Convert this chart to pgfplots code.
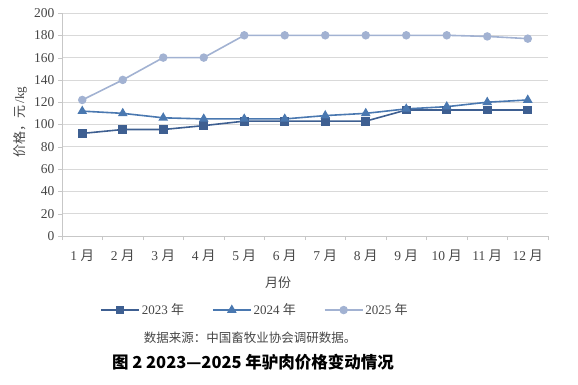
\documentclass[border=0pt]{standalone}
\usepackage{fontspec}
\setmainfont{Liberation Serif}
\newfontfamily\cjk{Noto Sans CJK SC}
\usepackage{pgfplots}
\pgfplotsset{compat=1.18}
\definecolor{cA}{RGB}{62,95,145}
\definecolor{cB}{RGB}{74,120,176}
\definecolor{cC}{RGB}{162,178,210}
\definecolor{txt}{RGB}{70,70,70}
\begin{document}
\begin{tikzpicture}[x=1pt,y=1pt]
\path[use as bounding box] (0,0) rectangle (578,-385);
\begin{axis}[
  at={(62pt,-236pt)}, anchor=south west,
  scale only axis, width=486pt, height=223pt,
  xmin=0, xmax=12, ymin=0, ymax=200,
  ytick={0,20,...,200},
  xtick={0,1,...,12}, xticklabels={},
  extra x ticks={0.5,1.5,...,11.5},
  extra x tick labels={1 {\cjk 月},2 {\cjk 月},3 {\cjk 月},4 {\cjk 月},5 {\cjk 月},6 {\cjk 月},7 {\cjk 月},8 {\cjk 月},9 {\cjk 月},10 {\cjk 月},11 {\cjk 月},12 {\cjk 月}},
  extra x tick style={major tick length=0pt, xticklabel style={yshift=-10pt}},
  axis x line*=bottom, axis y line*=left,
  axis line style={draw=black!22},
  tick style={draw=black!22},
  tick align=outside, major tick length=4pt,
  ymajorgrids, grid style={draw=black!15, line width=0.8pt},
  ticklabel style={color=txt, font=\fontsize{13.5}{15}\selectfont},
  /pgf/number format/assume math mode=true,
  legend columns=3,
  legend style={draw=none, fill=none, at={(0.397,-0.332)}, anchor=center,
    font=\fontsize{13}{15}\selectfont, text=txt,
    /tikz/every even column/.append style={column sep=26pt}},
  legend image code/.code={\draw[mark repeat=2,mark phase=2] plot coordinates {(0pt,0pt)(19pt,0pt)(38pt,0pt)};},
  every axis plot/.append style={line width=1.6pt},
]
\addplot[color=cA, mark=square*, mark size=3.6pt, mark options={solid}] coordinates {
(0.5,92)(1.5,95.5)(2.5,95.5)(3.5,99)(4.5,103)(5.5,103)(6.5,103)(7.5,103)(8.5,113)(9.5,113)(10.5,113)(11.5,113)};
\addlegendentry{2023 {\cjk 年}}
\addplot[color=cB, mark=triangle*, mark size=4pt] coordinates {
(0.5,112)(1.5,110)(2.5,106)(3.5,105)(4.5,105)(5.5,105)(6.5,108)(7.5,110)(8.5,114)(9.5,116)(10.5,120)(11.5,122)};
\addlegendentry{2024 {\cjk 年}}
\addplot[color=cC, mark=*, mark size=3.4pt] coordinates {
(0.5,122)(1.5,140)(2.5,160)(3.5,160)(4.5,180)(5.5,180)(6.5,180)(7.5,180)(8.5,180)(9.5,180)(10.5,179)(11.5,177)};
\addlegendentry{2025 {\cjk 年}}
\end{axis}
\node[rotate=90, text=txt, font=\fontsize{13}{15}\selectfont] at (20,-122) {{\cjk 价格，元}\,/kg};
\node[text=txt, font=\cjk\fontsize{13}{15}\selectfont] at (278,-283) {月份};
\node[text=txt, font=\cjk\fontsize{12.5}{14}\selectfont] at (250,-338) {数据来源：中国畜牧业协会调研数据。};
\node[text=black, font=\cjk\bfseries\fontsize{16.5}{18}\selectfont] at (253,-362) {图 2 2023—2025 年驴肉价格变动情况};
\end{tikzpicture}
\end{document}
